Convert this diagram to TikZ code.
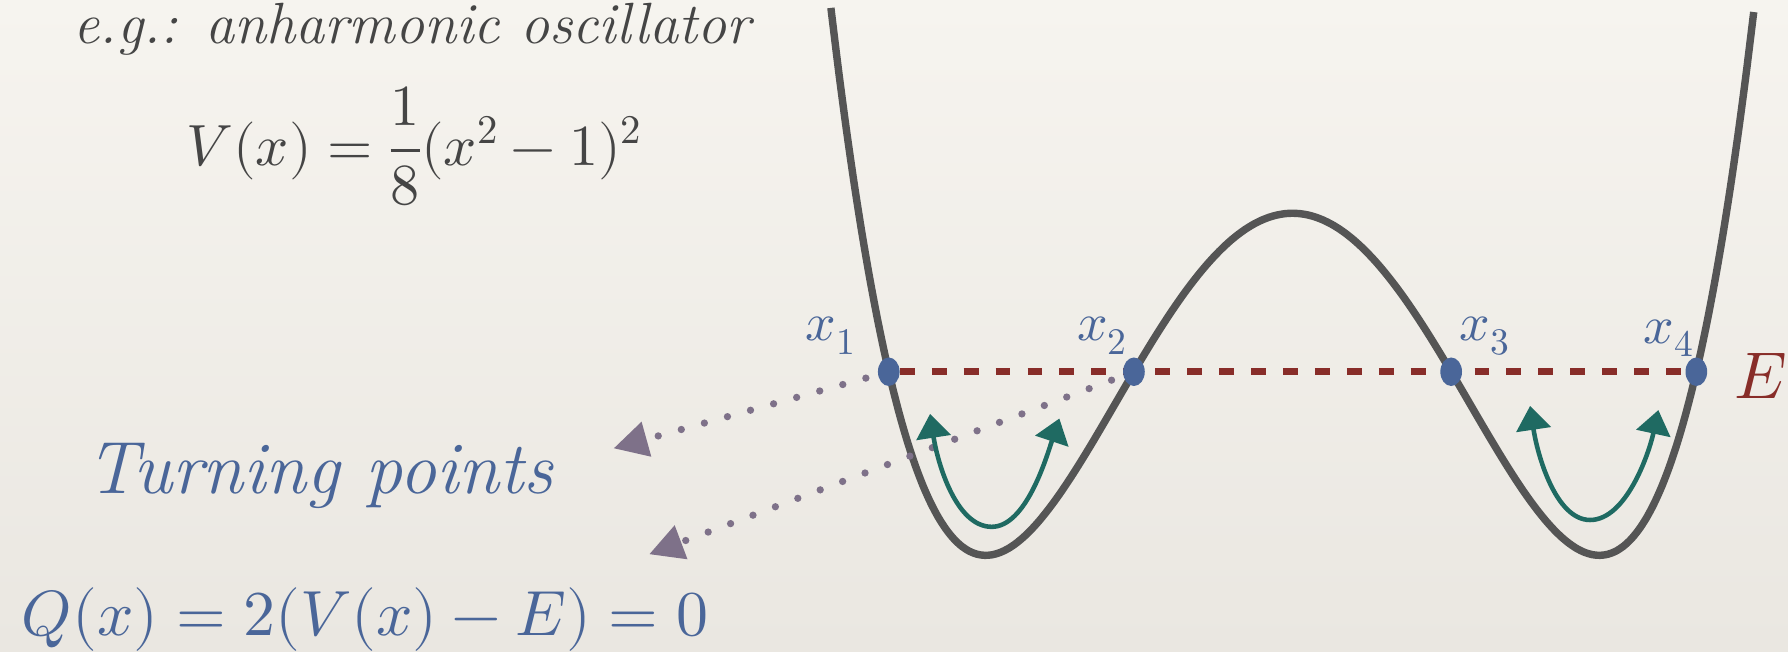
\documentclass[tikz,border=0pt]{standalone}
\usepackage{fontspec}
\usepackage{unicode-math}
\setmathfont{Latin Modern Math}
\usepackage{xcolor}
\usepackage{tikz}
\usetikzlibrary{arrows.meta,positioning,shapes.geometric}
\definecolor{bgtop}{HTML}{F6F4EF}
\definecolor{bgbot}{HTML}{EAE7E1}
\definecolor{potgray}{HTML}{555555}
\definecolor{txtgray}{HTML}{454545}
\definecolor{tpblue}{HTML}{4A6699}
\definecolor{ered}{HTML}{882D29}
\definecolor{swing}{HTML}{1F6A62}
\definecolor{pointer}{HTML}{7E7189}
\pgfdeclarelayer{bg}
\pgfsetlayers{bg,main}
\tikzset{
  pot/.style={potgray,line width=6.5pt},
  elev/.style={ered,line width=6.4pt,dash pattern=on 13pt off 15pt},
  tp/.style={ellipse,fill=tpblue,minimum width=19pt,minimum height=25pt,inner sep=0pt},
  tplab/.style={tpblue,inner sep=0pt,anchor=base west,font=\fontsize{47}{50}\selectfont},
  head/.style={inner sep=0pt,anchor=base west,text=txtgray,font=\fontsize{51}{55}\selectfont\itshape},
  big/.style={inner sep=0pt,anchor=base west,text=tpblue},
  ptr/.style={pointer,line width=6.4pt,line cap=round,dash pattern=on 0pt off 21pt,
    shorten <=11pt,-{Triangle[length=30pt,width=30pt]}},
  osc/.style={swing,line width=4pt,
    {Triangle[length=21pt,width=30pt]}-{Triangle[length=21pt,width=30pt]}},
}
\begin{document}
\begin{tikzpicture}[x=1pt,y=-1pt]
  \useasboundingbox (0,0) rectangle (1568,571);
  \node[tp] (x1) at (779.4,326) {};
  \node[tp] (x2) at (994.4,326) {};
  \node[tp] (x3) at (1272.6,326) {};
  \node[tp] (x4) at (1487.6,326) {};
  \begin{pgfonlayer}{bg}
    \fill[top color=bgtop,bottom color=bgbot] (0,0) rectangle (1568,571);
    \begin{scope}[shift={(1133.5,487)},x=269pt,y=2400pt]
      \draw[pot] plot[domain=-1.505:1.505,samples=121,smooth] (\x,{((\x)*(\x)-1)^2/8});
    \end{scope}
    \draw[elev] (x1) -- (x4);
  \end{pgfonlayer}
  \node[tplab] (l1) at (706.6,299) {$x_1$};
  \node[tplab] (l2) at (944.5,299) {$x_2$};
  \node[tplab] (l3) at (1280,299) {$x_3$};
  \node[tplab] (l4) at (1441,301) {$x_4$};
  \node[inner sep=0pt,anchor=base west,text=ered,font=\fontsize{58}{62}\selectfont] (elab) at (1521,349.3) {$E$};
  \node[head] (title) at (64.3,38) {e.g.: anharmonic oscillator};
  \node[head,font=\fontsize{51}{55}\selectfont] (pot) at (163.7,144.7) {$\displaystyle V(x)=\frac{1}{8}(x^2-1)^2$};
  \node[big,font=\fontsize{65}{70}\selectfont\itshape] (turn) at (76,433.2) {Turning points};
  \node[big,font=\fontsize{56}{60}\selectfont] (qeq) at (19,557.7) {$Q(x)=2(V(x)-E)=0$};
  \coordinate (t1) at (538,393.2);
  \coordinate (t2) at (569.2,486.1);
  \draw[ptr] (x1) -- (t1);
  \draw[ptr] (x2) -- (t2);
  \draw[osc] (815.6,363) .. controls (822,405) and (838,462) .. (869.7,462)
    .. controls (900,462) and (918,400) .. (929,367);
  \draw[osc] (1341.8,356) .. controls (1348,398) and (1364,456) .. (1394.4,456)
    .. controls (1426,456) and (1446,398) .. (1454.3,359.6);
\end{tikzpicture}
\end{document}
